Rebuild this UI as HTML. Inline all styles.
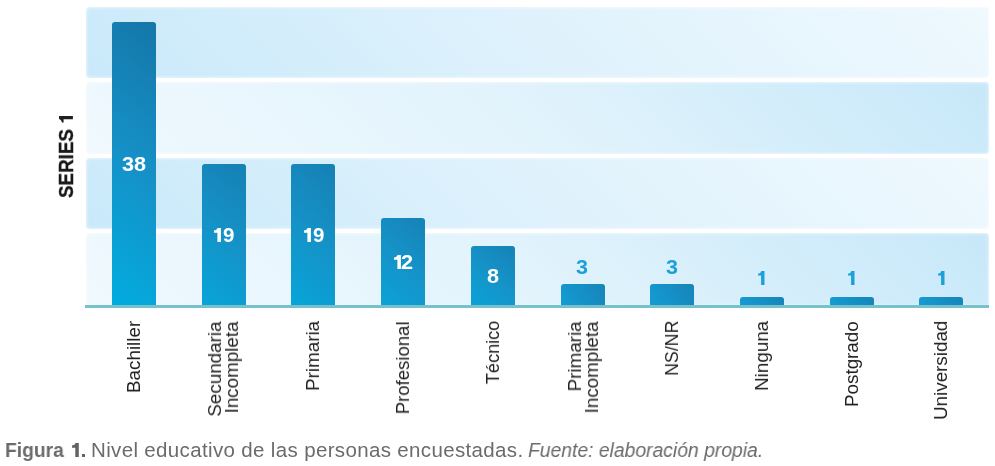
<!DOCTYPE html>
<html><head><meta charset="utf-8">
<style>
html,body{margin:0;padding:0;background:#fff;width:995px;height:466px;overflow:hidden;}
body{position:relative;font-family:"Liberation Sans",sans-serif;}
.band{position:absolute;left:85.5px;width:903.5px;border-radius:4px;box-shadow:inset 0 0 3px 1px rgba(255,255,255,0.55);}
.b1{top:7.3px;height:70.5px;background:linear-gradient(45deg,#c9e9fa 0%,#ddf1fc 45%,#eff9fe 100%);}
.b2{top:82.4px;height:71.3px;background:linear-gradient(45deg,#f0f9fe 0%,#e1f3fc 50%,#c7e8f9 100%);}
.b3{top:158.2px;height:70.6px;background:linear-gradient(45deg,#c9e9fa 0%,#ddf1fc 45%,#eff9fe 100%);}
.b4{top:233.4px;height:72.6px;border-radius:4px 4px 0 0;background:linear-gradient(45deg,#f0f9fe 0%,#e1f3fc 50%,#c7e8f9 100%);}
.axis{position:absolute;left:85px;width:904px;top:305px;height:2.7px;background:#77c1cd;}
.bar{position:absolute;width:44px;bottom:161px;border-radius:3px 3px 0 0;background:linear-gradient(40deg,#04aadd,#1590c6 50%,#1774a6);}
.g{position:absolute;will-change:transform;font-weight:bold;font-size:20.5px;line-height:20px;color:#fff;transform-origin:0 0;white-space:nowrap;}
.g.out{color:#1d9fd9;}
.one{position:absolute;overflow:visible;}
.cat{position:absolute;top:320.5px;width:0;height:0;}
.cat div{position:absolute;left:0;top:0;width:200px;height:40px;transform-origin:0 0;transform:rotate(-90deg) translateX(-200px) ;}
.cat span{position:absolute;right:0;top:0;transform-origin:100% 0;transform:scaleX(1.075);white-space:nowrap;text-align:right;font-size:17.5px;line-height:16.5px;color:#231f20;will-change:transform;}
.series{position:absolute;left:57.6px;top:198px;transform-origin:0 0;transform:rotate(-90deg) scaleX(0.94);font-weight:bold;font-size:20px;line-height:17px;color:#1a1718;-webkit-text-stroke:0.3px #1a1718;white-space:nowrap;will-change:transform;}
.cap{position:absolute;top:437.8px;font-size:20.5px;will-change:transform;line-height:24px;color:#6b6b6d;white-space:nowrap;transform-origin:0 0;}
</style></head><body>
<div class="band b1"></div>
<div class="band b2"></div>
<div class="band b3"></div>
<div class="band b4"></div>

<div class="bar" style="left:112px;height:282.8px;background:linear-gradient(40deg,#02acdf,#1591c7 50%,#1576a8)"></div>
<div class="bar" style="left:201.7px;height:141px;background:linear-gradient(40deg,#07a5d9,#1592c7 50%,#1680b4)"></div>
<div class="bar" style="left:291.4px;height:141px;background:linear-gradient(40deg,#07a5d9,#1592c7 50%,#1680b4)"></div>
<div class="bar" style="left:381.1px;height:87.5px;background:linear-gradient(40deg,#0ba2d7,#1593c8 50%,#1682b6)"></div>
<div class="bar" style="left:470.8px;height:58.7px;background:linear-gradient(40deg,#0ba2d7,#1593c8 50%,#1682b6)"></div>
<div class="bar" style="left:560.5px;height:20.7px;background:linear-gradient(60deg,#149cd3,#1590c6 50%,#1784b8)"></div>
<div class="bar" style="left:650.2px;height:20.7px;background:linear-gradient(60deg,#149cd3,#1590c6 50%,#1784b8)"></div>
<div class="bar" style="left:739.9px;height:8px;background:linear-gradient(60deg,#149cd3,#1590c6 50%,#1784b8)"></div>
<div class="bar" style="left:829.6px;height:8px;background:linear-gradient(60deg,#149cd3,#1590c6 50%,#1784b8)"></div>
<div class="bar" style="left:919.3px;height:8px;background:linear-gradient(60deg,#149cd3,#1590c6 50%,#1784b8)"></div>
<div class="axis"></div>

<div class="g" style="left:121.943px;top:154px;transform:scaleX(1.057)">38</div>
<svg class="one" style="left:214.2px;top:228px" width="8" height="14" viewBox="0 0 8 14"><path fill="#fff" d="M3.4 13.9V4.7H0V2.5C1.8 2.3 3.1 1.5 3.5 0H6.9V13.9Z"/></svg>
<div class="g" style="left:222.91px;top:225px;transform:scaleX(0.99)">9</div>
<svg class="one" style="left:304.2px;top:228px" width="8" height="14" viewBox="0 0 8 14"><path fill="#fff" d="M3.4 13.9V4.7H0V2.5C1.8 2.3 3.1 1.5 3.5 0H6.9V13.9Z"/></svg>
<div class="g" style="left:312.90999999999997px;top:225px;transform:scaleX(0.99)">9</div>
<svg class="one" style="left:394.2px;top:255px" width="8" height="14" viewBox="0 0 8 14"><path fill="#fff" d="M3.4 13.9V4.7H0V2.5C1.8 2.3 3.1 1.5 3.5 0H6.9V13.9Z"/></svg>
<div class="g" style="left:401.44px;top:252px;transform:scaleX(1.06)">2</div>
<div class="g" style="left:486.54px;top:266px;transform:scaleX(1.06)">8</div>
<div class="g out" style="left:575.95px;top:257px;transform:scaleX(1.05)">3</div>
<div class="g out" style="left:665.6500000000001px;top:256.8px;transform:scaleX(1.05)">3</div>
<svg class="one" style="left:758.4px;top:270.9px" width="8" height="14" viewBox="0 0 8 14"><path fill="#1d9fd9" d="M3.1 13.9V4.6H0V2.8C1.7 2.6 2.9 1.6 3.3 0H6.5V13.9Z"/></svg>
<svg class="one" style="left:847.9px;top:270.9px" width="8" height="14" viewBox="0 0 8 14"><path fill="#1d9fd9" d="M3.1 13.9V4.6H0V2.8C1.7 2.6 2.9 1.6 3.3 0H6.5V13.9Z"/></svg>
<svg class="one" style="left:937.7px;top:270.9px" width="8" height="14" viewBox="0 0 8 14"><path fill="#1d9fd9" d="M3.1 13.9V4.6H0V2.8C1.7 2.6 2.9 1.6 3.3 0H6.5V13.9Z"/></svg>

<div class="series">SERIES</div>
<svg class="one" style="left:59px;top:115.9px" width="14" height="7" viewBox="0 0 14 7"><path fill="#231f20" d="M13.9 3.3L4.6 3.3L4.6 6.4L2.8 6.4C2.6 4.7 1.6 3.5 0 3.1L0 0L13.9 0Z"/></svg>

<div class="cat" style="left:126px"><div><span>Bachiller</span></div></div>
<div class="cat" style="left:207.4px"><div><span>Secundaria<br>Incompleta</span></div></div>
<div class="cat" style="left:305.4px"><div><span>Primaria</span></div></div>
<div class="cat" style="left:395.1px"><div><span style="transform:scaleX(1.06)">Profesional</span></div></div>
<div class="cat" style="left:484.8px"><div><span style="transform:scaleX(1.035)">Técnico</span></div></div>
<div class="cat" style="left:566.5px"><div><span>Primaria<br>Incompleta</span></div></div>
<div class="cat" style="left:664.2px"><div><span style="transform:scaleX(1.015)">NS/NR</span></div></div>
<div class="cat" style="left:753.9px"><div><span>Ninguna</span></div></div>
<div class="cat" style="left:843.6px"><div><span>Postgrado</span></div></div>
<div class="cat" style="left:933.3px"><div><span>Universidad</span></div></div>

<div class="cap" style="left:5.2px;font-weight:bold;transform:scaleX(0.939)">Figura</div>
<svg class="one" style="left:71.5px;top:443px" width="7" height="14" viewBox="0 0 7 14"><path fill="#636365" d="M3.3 13.9V4.7H0V2.5C1.8 2.3 3.1 1.5 3.5 0H6.8V13.9Z"/></svg>
<div style="position:absolute;left:81.8px;top:453.6px;width:3.1px;height:3.3px;background:#636365"></div>
<div class="cap" style="left:91.2px;letter-spacing:0.35px">Nivel educativo de las personas encuestadas.</div>
<div class="cap" style="left:528.2px;font-style:italic;transform:scaleX(0.942)">Fuente: elaboración propia.</div>
</body></html>
